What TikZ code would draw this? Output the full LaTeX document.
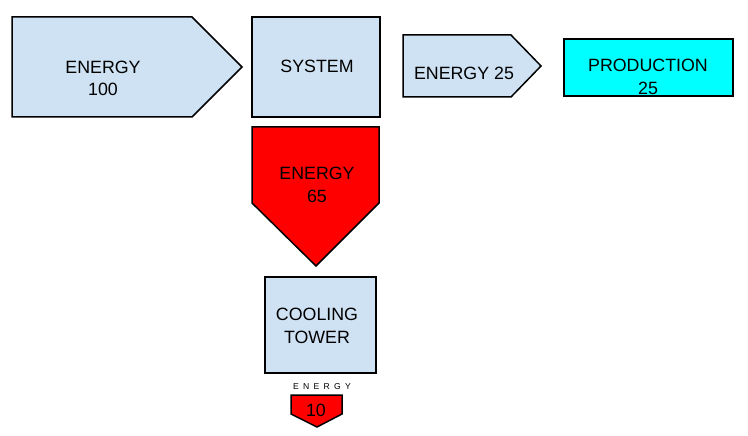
\documentclass[tikz,border=0pt]{standalone}
\usepackage{fontspec}
\setmainfont{Liberation Sans}
\newfontfamily\spacedfont[LetterSpace=50]{Liberation Sans}
\usetikzlibrary{math}
\definecolor{flowblue}{HTML}{CFE2F3}
\definecolor{lossred}{HTML}{FF0000}
\definecolor{prodcyan}{HTML}{00FFFF}

\begin{document}
\begin{tikzpicture}[x=1pt,y=-1pt,
  shapebox/.style={draw=black, line width=1.5pt, line join=miter},
  boxtext/.style={font=\fontsize{17.8}{22.5}\selectfont, align=center, inner sep=0pt}]
\useasboundingbox (0,0) rectangle (748,436);
%energy in
\draw[shapebox, fill=flowblue] (12,17) -- (192,17) -- (242,67) -- (192,117) -- (12,117) -- cycle;
\node[boxtext] (energyin) at (103,78.5) {ENERGY\\100};
%system
\draw[shapebox, fill=flowblue] (252,17) rectangle (380,117);
\node[boxtext] (system) at (317,66) {SYSTEM};
%useful energy
\draw[shapebox, fill=flowblue] (403,35) -- (511,35) -- (541,66) -- (511,97) -- (403,97) -- cycle;
\node[boxtext] (energyout) at (464,73) {ENERGY 25};
%production
\draw[shapebox, fill=prodcyan] (564,39) rectangle (733,96);
\node[boxtext] (production) at (648,77) {PRODUCTION\\25};
%losses
\draw[shapebox, fill=lossred] (252,127) -- (379,127) -- (379,203) -- (316,266) -- (252,203) -- cycle;
\node[boxtext] (energyloss) at (317,185) {ENERGY\\65};
%cooling tower
\draw[shapebox, fill=flowblue] (265,277) rectangle (376,373);
\node[boxtext] (tower) at (317,326) {COOLING\\TOWER};
%small loss
\node[font=\spacedfont\fontsize{8.6}{9}\selectfont, inner sep=0pt] (smalllabel) at (322,387) {ENERGY};
\draw[shapebox, fill=lossred] (291,395) -- (342,395) -- (342,414) -- (317,427) -- (291,414) -- cycle;
\node[boxtext] (energyrest) at (316,410) {10};
\end{tikzpicture}
\end{document}
